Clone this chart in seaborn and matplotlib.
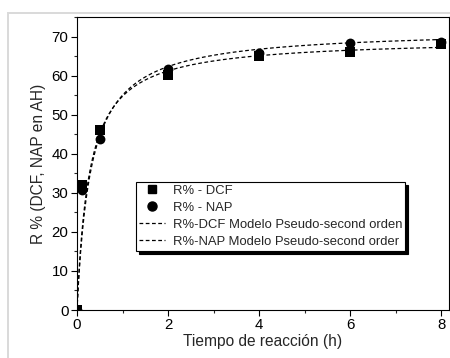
import numpy as np
import pandas as pd
import seaborn as sns
import matplotlib
matplotlib.use("Agg")
import matplotlib.pyplot as plt
from matplotlib.lines import Line2D
from matplotlib.patches import Rectangle
from matplotlib.ticker import MultipleLocator

# ---- data ----
t_dcf = [0, 0.11, 0.5, 2, 4, 6, 8]
r_dcf = [0, 32.0, 46.2, 60.2, 64.9, 66.1, 68.0]
t_nap = [0, 0.11, 0.5, 2, 4, 6, 8]
r_nap = [0, 30.8, 43.8, 61.8, 65.8, 68.4, 68.6]

# pseudo-second-order model parameters (qe, k)
qe_dcf, k_dcf = 69.5, 0.0532
qe_nap, k_nap = 71.9, 0.0452

labels = ["R% - DCF", "R% - NAP",
          "R%-DCF Modelo Pseudo-second orden",
          "R%-NAP Modelo Pseudo-second order"]
x_label = "Tiempo de reacción (h)"
y_label = "R % (DCF, NAP en AH)"

sns.set_style("ticks")
plt.rcParams['font.family'] = ['Liberation Sans', 'DejaVu Sans']

fig, ax = plt.subplots(figsize=(4.5, 3.58), dpi=100)
fig.subplots_adjust(left=0.171, right=0.998, top=0.9525, bottom=0.134)

tt = np.linspace(0, 8, 400)
model_dcf = qe_dcf**2 * k_dcf * tt / (1 + qe_dcf * k_dcf * tt)
model_nap = qe_nap**2 * k_nap * tt / (1 + qe_nap * k_nap * tt)
dfm = pd.DataFrame({"t": np.concatenate([tt, tt]),
                    "R": np.concatenate([model_dcf, model_nap]),
                    "s": ["dcf"] * len(tt) + ["nap"] * len(tt)})
for s in ["dcf", "nap"]:
    sns.lineplot(data=dfm[dfm.s == s], x="t", y="R", ax=ax, color="black",
                 lw=0.9, dashes=False, linestyle=(0, (3, 2)), legend=False)

sns.scatterplot(x=t_dcf, y=r_dcf, ax=ax, marker="s", s=45, color="black",
                edgecolor="black", linewidth=0, zorder=3)
sns.scatterplot(x=t_nap, y=r_nap, ax=ax, marker="o", s=50, color="black",
                edgecolor="black", linewidth=0, zorder=3)

ax.set_xlim(0, 8.17)
ax.set_ylim(0, 75)
ax.xaxis.set_major_locator(MultipleLocator(2))
ax.xaxis.set_minor_locator(MultipleLocator(1))
ax.yaxis.set_major_locator(MultipleLocator(10))
ax.yaxis.set_minor_locator(MultipleLocator(5))
ax.tick_params(which="major", direction="out", length=4, width=0.8,
               labelsize=10.8, pad=2, colors="black")
ax.tick_params(which="minor", direction="out", length=2, width=0.8)
for sp in ax.spines.values():
    sp.set_linewidth(0.8)
    sp.set_color("black")
ax.set_xlabel(x_label, fontsize=11.2, labelpad=1)
ax.set_ylabel(y_label, fontsize=11.2, labelpad=4)

handles = [
    Line2D([], [], marker="s", color="black", ls="none", ms=6),
    Line2D([], [], marker="o", color="black", ls="none", ms=6.5),
    Line2D([], [], color="black", lw=0.9, ls=(0, (3, 2))),
    Line2D([], [], color="black", lw=0.9, ls=(0, (3, 2))),
]
leg = ax.legend(handles, labels, loc="upper left", bbox_to_anchor=(0.159, 0.437),
                borderaxespad=0, fontsize=9.4, frameon=True, fancybox=False,
                edgecolor="black", framealpha=1, handlelength=2.0,
                handletextpad=0.6, borderpad=0.2, labelspacing=0.38,
                shadow={"color": "black", "alpha": 1, "ox": 2, "oy": -2.5})
leg.get_frame().set_linewidth(0.8)

fig.patches.append(Rectangle((8 / 450, -0.1), 1.1, 1 - 13 / 358 + 0.1,
                             transform=fig.transFigure, fill=False,
                             edgecolor="#d9d9d9", lw=1.4, zorder=-1))

fig.savefig("out.png", dpi=100)
